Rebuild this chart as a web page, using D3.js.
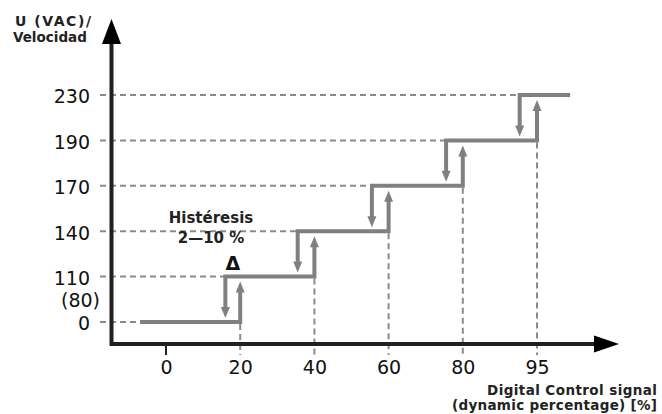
<!DOCTYPE html>
<html>
<head>
<meta charset="utf-8">
<script src="https://cdn.jsdelivr.net/npm/d3@7"></script>
<style>
  html, body { margin: 0; padding: 0; background: #fff; }
  svg { display: block; font-family: "DejaVu Sans", Verdana, sans-serif; }
</style>
</head>
<body>
<svg id="chart" width="662" height="414"></svg>
<script>
// ---- data ----
const yLevels = [0, 110, 140, 170, 190, 230];
const yTickLabels = ["0", "110", "140", "170", "190", "230"];
const xTicks = [0, 20, 40, 60, 80, 95];
const xTickLabels = ["0", "20", "40", "60", "80", "95"];
const upThresholds = [20, 40, 60, 80, 95];          // switch up
const downThresholds = [16, 35.5, 55.5, 75.5, 91.5]; // switch down (hysteresis)
const lineStart = -7;
const lineEnd = 101.7;
const extraYLabel = "(80)";
const yTitle = ["U (VAC)/", "Velocidad"];
const xTitle = ["Digital Control signal", "(dynamic percentage) [%]"];
const hystText = ["Histéresis", "2—10 %"];

// ---- scales ----
const xRange = xTicks.map((d, i) => 166 + i * 74.2);
const x = d3.scaleLinear().domain(xTicks).range(xRange);
const yRange = yLevels.map((d, i) => 322 - i * 45.4);
const y = d3.scaleLinear().domain(yLevels).range(yRange);

const svg = d3.select("#chart");
const gray = "#808080";
const dashGray = "#8a8a8a";
const axisCol = "#231f20";

// ---- dashed guides ----
const guides = svg.append("g").attr("stroke", dashGray).attr("stroke-width", 2)
  .attr("stroke-dasharray", "6,4").attr("fill", "none");
yLevels.forEach((lv, i) => {
  const xEnd = i === 0 ? x(lineStart) : x(downThresholds[i - 1]);
  guides.append("line").attr("x1", 100).attr("x2", xEnd)
    .attr("y1", y(lv)).attr("y2", y(lv));
});
upThresholds.forEach((u, i) => {
  guides.append("line").attr("x1", x(u)).attr("x2", x(u))
    .attr("y1", y(yLevels[i]) + 2).attr("y2", 355);
});

// ---- axes ----
const axes = svg.append("g");
axes.append("path")
  .attr("d", `M111.5,42 V344 H596`)
  .attr("fill", "none").attr("stroke", axisCol).attr("stroke-width", 4)
  .attr("stroke-linejoin", "miter");
axes.append("path").attr("d", "M111.5,19 L102,44 L121,44 Z").attr("fill", "#000");
axes.append("path").attr("d", "M619,344 L594,335.5 L594,352.5 Z").attr("fill", "#000");
axes.append("line").attr("x1", x(0)).attr("x2", x(0)).attr("y1", 344).attr("y2", 355)
  .attr("stroke", axisCol).attr("stroke-width", 2);

const xAxis = d3.axisBottom(x).tickValues(xTicks).tickSize(0)
  .tickFormat((d, i) => xTickLabels[i]);
const gx = svg.append("g").attr("transform", "translate(0,344)").call(xAxis);
gx.select(".domain").remove();
gx.selectAll("text").attr("font-size", 19).attr("font-family", "DejaVu Sans, Verdana, sans-serif")
  .attr("fill", "#111").attr("dy", null).attr("y", 30);

const yAxis = d3.axisLeft(y).tickValues(yLevels).tickSize(0)
  .tickFormat((d, i) => yTickLabels[i]);
const gy = svg.append("g").attr("transform", "translate(90,0)").call(yAxis);
gy.select(".domain").remove();
gy.selectAll("text").attr("font-size", 19).attr("font-family", "DejaVu Sans, Verdana, sans-serif")
  .attr("fill", "#111").attr("x", 0).attr("dy", "0.36em").attr("y", 1);

svg.append("text").attr("x", 100).attr("y", 307).attr("text-anchor", "end")
  .attr("font-size", 19).attr("fill", "#111").text(extraYLabel);

// ---- step lines with hysteresis arrows ----
const steps = svg.append("g");
const headLen = 11, headW = 4.5;
const tipGapUp = 5, tipGapDown = 4;
yLevels.forEach((lv, i) => {
  let d = "";
  const yl = y(lv);
  if (i === 0) {
    d += `M${x(lineStart)},${yl}`;
  } else {
    const xd = x(downThresholds[i - 1]);
    const tipY = y(yLevels[i - 1]) - tipGapDown;
    d += `M${xd},${tipY - headLen + 1} V${yl}`;
  }
  if (i < yLevels.length - 1) {
    const xu = x(upThresholds[i]);
    const tipY = y(yLevels[i + 1]) + tipGapUp;
    d += ` H${xu} V${tipY + headLen - 1}`;
  } else {
    d += ` H${x(lineEnd)}`;
  }
  steps.append("path").attr("d", d).attr("fill", "none").attr("stroke", gray)
    .attr("stroke-width", 4).attr("stroke-linejoin", "miter");
});
upThresholds.forEach((u, i) => {
  const xu = x(u), tip = y(yLevels[i + 1]) + tipGapUp;
  steps.append("path").attr("fill", gray)
    .attr("d", `M${xu},${tip} L${xu - headW},${tip + headLen} L${xu + headW},${tip + headLen} Z`);
});
downThresholds.forEach((dv, i) => {
  const xd = x(dv), tip = y(yLevels[i]) - tipGapDown;
  steps.append("path").attr("fill", gray)
    .attr("d", `M${xd},${tip} L${xd - headW},${tip - headLen} L${xd + headW},${tip - headLen} Z`);
});

// ---- annotations ----
svg.append("text").attr("x", (x(downThresholds[0]) + x(upThresholds[0])) / 2).attr("y", 270)
  .attr("text-anchor", "middle").attr("font-size", 19).attr("font-weight", "bold")
  .attr("fill", "#111").text("Δ");
svg.append("text").attr("x", 211).attr("y", 223).attr("text-anchor", "middle")
  .attr("font-size", 15).attr("font-weight", "bold").attr("fill", "#222").text(hystText[0]);
svg.append("text").attr("x", 211).attr("y", 243).attr("text-anchor", "middle")
  .attr("font-size", 15).attr("font-weight", "bold").attr("fill", "#222").text(hystText[1]);

svg.append("text").attr("x", 15).attr("y", 26)
  .attr("font-size", 14).attr("font-weight", "bold").attr("fill", "#222")
  .attr("textLength", 76).attr("lengthAdjust", "spacing").text(yTitle[0]);
svg.append("text").attr("x", 13).attr("y", 42)
  .attr("font-size", 13.5).attr("font-weight", "bold").attr("fill", "#222").text(yTitle[1]);
svg.append("text").attr("x", 657).attr("y", 395).attr("text-anchor", "end")
  .attr("font-size", 13.5).attr("font-weight", "bold").attr("fill", "#222")
  .attr("textLength", 170).attr("lengthAdjust", "spacing").text(xTitle[0]);
svg.append("text").attr("x", 657).attr("y", 410).attr("text-anchor", "end")
  .attr("font-size", 13.5).attr("font-weight", "bold").attr("fill", "#222")
  .attr("textLength", 205).attr("lengthAdjust", "spacing").text(xTitle[1]);
</script>
</body>
</html>
